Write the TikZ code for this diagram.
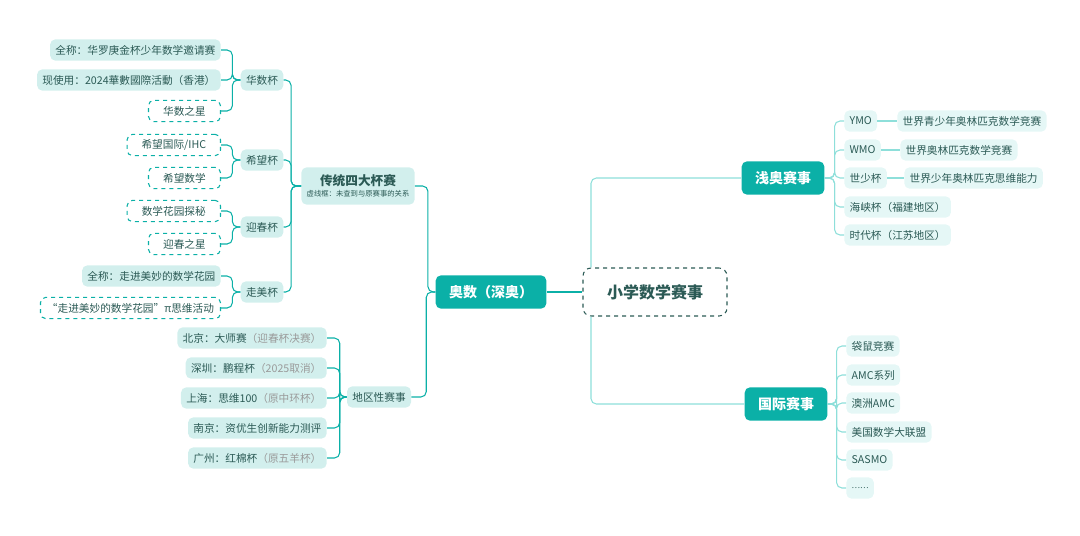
\documentclass[tikz,border=0pt]{standalone}
\usepackage{fontspec}
\setmainfont{Noto Sans CJK SC}
\usepackage{xcolor}
\usetikzlibrary{positioning}
\definecolor{teal1}{HTML}{0BB0A7}
\definecolor{teal2}{HTML}{8EDFDA}
\definecolor{fillA}{HTML}{D2EFED}
\definecolor{fillB}{HTML}{E5F7F6}
\definecolor{ink}{HTML}{2B5A55}
\definecolor{note}{HTML}{9A9A9A}

\begin{document}
\begin{tikzpicture}[x=0.75pt,y=-0.75pt,
  leaf/.style={rectangle, rounded corners=4pt, fill=#1, text=ink,
    minimum height=16pt, inner xsep=4pt, font=\fontsize{8}{9}\selectfont},
  leaf/.default=fillA,
  dleaf/.style={leaf=white, draw=teal1, dashed, thick},
  hub/.style={rectangle, rounded corners=4pt, fill=teal1, text=white,
    minimum height=25pt, inner xsep=10pt, font=\fontsize{10.5}{12}\bfseries\selectfont},
  lline/.style={draw=teal1, thick, rounded corners=4pt},
  rline/.style={draw=teal2, thick, rounded corners=4pt}
]
\useasboundingbox (0,0) rectangle (1080,535);
% Root and main branches
\node[rectangle, rounded corners=6pt, draw=ink, dashed, thick, text=ink,
  minimum width=108pt, minimum height=36pt,
  font=\fontsize{12}{14}\bfseries\selectfont] (root) at (655,292) {小学数学赛事};
\node[hub] (ao) at (491,292) {奥数（深奥）};
\node[hub] (qian) at (783,178) {浅奥赛事};
\node[hub] (guoji) at (786,404) {国际赛事};
\draw[lline] (ao.east) -- (root.west);
\draw[rline] ([xshift=-48]root.north) |- (qian.west);
\draw[rline] ([xshift=-48]root.south) |- (guoji.west);
% Left: traditional cups and regional contests
\node[leaf, minimum height=28pt, align=center] (chuan) at (358,186)
  {\fontsize{9.5}{11}\bfseries\selectfont 传统四大杯赛\\[-1pt]{\fontsize{5.5}{6}\selectfont 虚线框：未查到与原赛事的关系}};
\node[leaf] (diqu) at (379,397) {地区性赛事};
\draw[lline] (chuan.east) -- ++(13,0) |- (ao.west);
\draw[lline] (diqu.east) -- ++(15,0) |- (ao.west);
% Four cups
\node[leaf] (hs) at (262,80) {华数杯};
\node[leaf] (xw) at (262,160) {希望杯};
\node[leaf] (yc) at (262,227) {迎春杯};
\node[leaf] (zm) at (262,292) {走美杯};
\foreach \c in {hs,xw,yc,zm}
  \draw[lline] (chuan.west) -- ++(-10,0) |- (\c.east);
% Cup details
\node[leaf, anchor=east] (hs1) at (221,50) {全称：华罗庚金杯少年数学邀请赛};
\node[leaf, anchor=east] (hs2) at (221,80) {现使用：2024華數國際活動（香港）};
\node[dleaf, anchor=east, minimum width=54pt] (hs3) at (221,111) {华数之星};
\node[dleaf, anchor=east, minimum width=70pt] (xw1) at (221,145) {希望国际/IHC};
\node[dleaf, anchor=east, minimum width=54pt] (xw2) at (221,178) {希望数学};
\node[dleaf, anchor=east, minimum width=70pt] (yc1) at (221,211) {数学花园探秘};
\node[dleaf, anchor=east, minimum width=54pt] (yc2) at (221,244) {迎春之星};
\node[leaf, anchor=east] (zm1) at (221,276) {全称：走进美妙的数学花园};
\node[dleaf, anchor=east, minimum width=135pt] (zm2) at (221,308) {“走进美妙的数学花园”π思维活动};
\foreach \p/\c in {hs/hs1,hs/hs2,hs/hs3,xw/xw1,xw/xw2,yc/yc1,yc/yc2,zm/zm1,zm/zm2}
  \draw[lline] (\p.west) -- ++(-8,0) |- (\c.east);
% Regional contests
\node[leaf, anchor=east] (bj) at (327,338) {北京：大师赛\textcolor{note}{（迎春杯决赛）}};
\node[leaf, anchor=east] (sz) at (327,368) {深圳：鹏程杯\textcolor{note}{（2025取消）}};
\node[leaf, anchor=east] (sh) at (327,398) {上海：思维100\textcolor{note}{（原中环杯）}};
\node[leaf, anchor=east] (nj) at (327,428) {南京：资优生创新能力测评};
\node[leaf, anchor=east] (gz) at (327,458) {广州：红棉杯\textcolor{note}{（原五羊杯）}};
\foreach \c in {bj,sz,sh,nj,gz}
  \draw[lline] (diqu.west) -- ++(-7,0) |- (\c.east);
% Right: light olympiad
\node[leaf=fillB, anchor=west] (ymo) at (844,121) {YMO};
\node[leaf=fillB, anchor=west] (wmo) at (844,150) {WMO};
\node[leaf=fillB, anchor=west] (ss) at (844,178) {世少杯};
\node[leaf=fillB, anchor=west] (hx) at (844,207) {海峡杯（福建地区）};
\node[leaf=fillB, anchor=west] (sd) at (844,235) {时代杯（江苏地区）};
\node[leaf=fillB, anchor=west] (ymo1) at (897,121) {世界青少年奥林匹克数学竞赛};
\node[leaf=fillB, anchor=west] (wmo1) at (900,150) {世界奥林匹克数学竞赛};
\node[leaf=fillB, anchor=west] (ss1) at (904,178) {世界少年奥林匹克思维能力};
\foreach \c in {ymo,wmo,ss,hx,sd}
  \draw[rline] (qian.east) -- ++(10,0) |- (\c.west);
\foreach \a/\b in {ymo/ymo1,wmo/wmo1,ss/ss1}
  \draw[rline] (\a.east) -- (\b.west);
% Right: international
\node[leaf=fillB, anchor=west] (ds) at (846,346) {袋鼠竞赛};
\node[leaf=fillB, anchor=west] (amc) at (846,375) {AMC系列};
\node[leaf=fillB, anchor=west] (az) at (846,403) {澳洲AMC};
\node[leaf=fillB, anchor=west] (mg) at (846,432) {美国数学大联盟};
\node[leaf=fillB, anchor=west] (sa) at (846,460) {SASMO};
\node[leaf=fillB, anchor=west] (dots) at (846,488) {\fontsize{6}{7}\selectfont ……};
\foreach \c in {ds,amc,az,mg,sa,dots}
  \draw[rline] (guoji.east) -- ++(9,0) |- (\c.west);
\end{tikzpicture}
\end{document}
